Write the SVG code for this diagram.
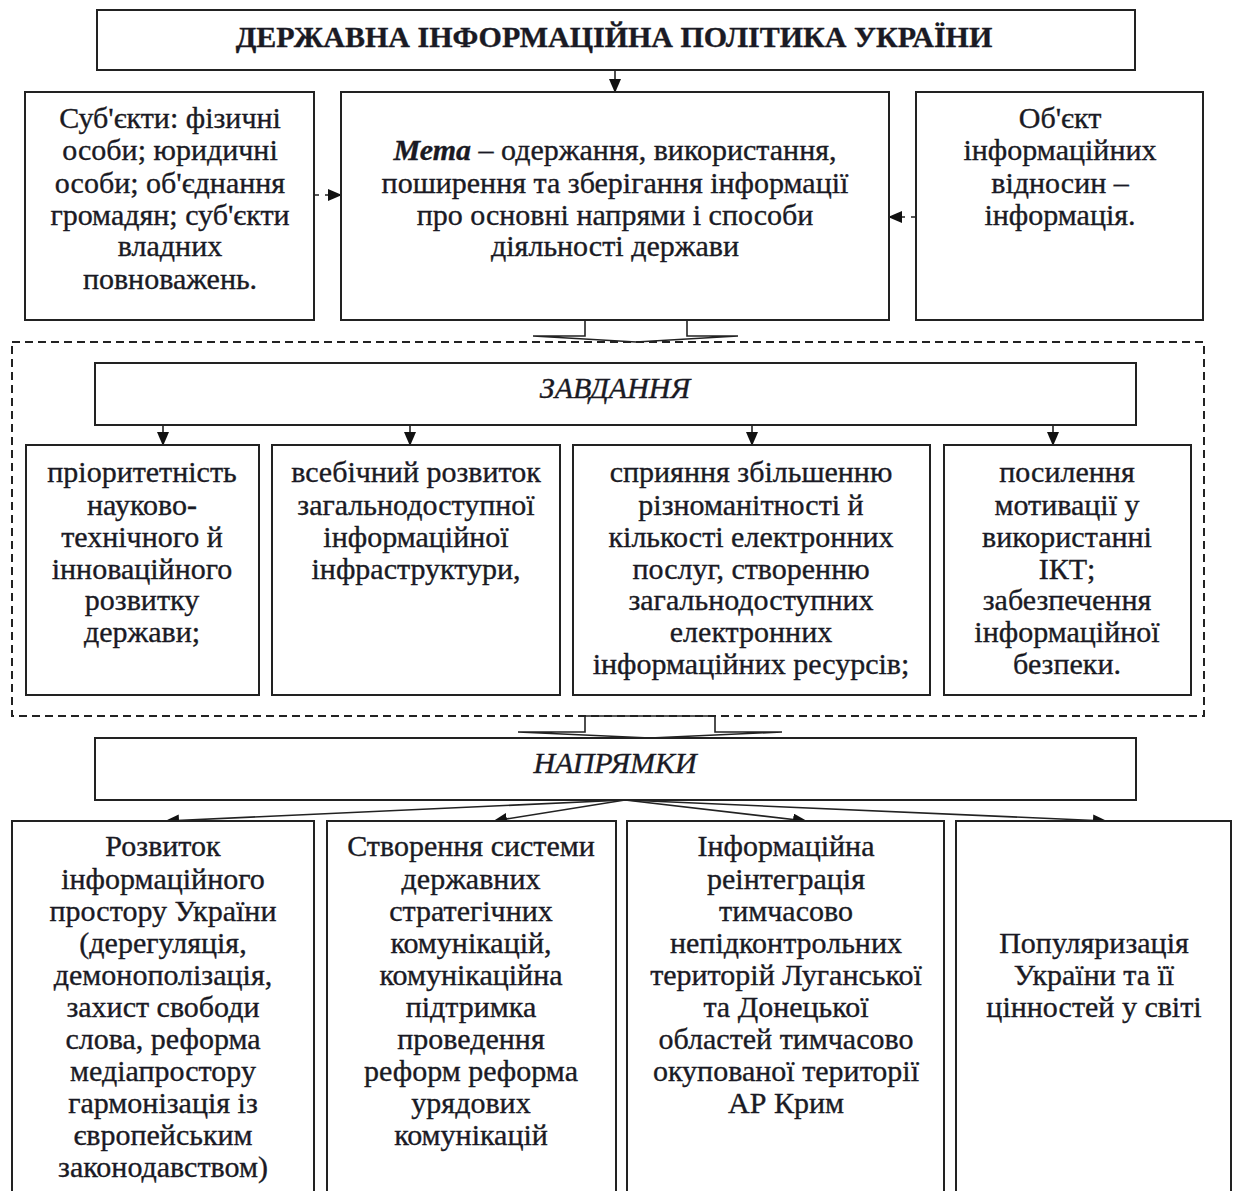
<svg xmlns="http://www.w3.org/2000/svg" width="1235" height="1191" viewBox="0 0 1235 1191">
<defs>
<marker id="ah" markerWidth="14" markerHeight="12" refX="13" refY="6" orient="auto" markerUnits="userSpaceOnUse">
<path d="M0,0 L14,6 L0,12 Z" fill="#111"/>
</marker>
<style>
.b{fill:#fff;stroke:#222;stroke-width:2}
.t{font-family:"Liberation Serif","Times New Roman",serif;font-size:30px;fill:#1a1a24;stroke:#1a1a24;stroke-width:0.35;text-anchor:middle}
.c{stroke:#222;stroke-width:1.6;fill:none}
</style>
</defs>
<rect width="1235" height="1191" fill="#fff"/>
<g id="connectors">
<line class="c" x1="615" y1="70" x2="615" y2="92" marker-end="url(#ah)"/>
<line class="c" x1="314" y1="195" x2="341" y2="195" stroke-dasharray="5 6" marker-end="url(#ah)"/>
<line class="c" x1="916" y1="217" x2="889" y2="217" stroke-dasharray="5 6" marker-end="url(#ah)"/>
<polygon class="c" fill="#fff" points="585,320 687,320 687,336 738,336 636,342 533,336 585,336"/>
<line class="c" x1="163" y1="425" x2="163" y2="445" marker-end="url(#ah)"/>
<line class="c" x1="410" y1="425" x2="410" y2="445" marker-end="url(#ah)"/>
<line class="c" x1="752" y1="425" x2="752" y2="445" marker-end="url(#ah)"/>
<line class="c" x1="1053" y1="425" x2="1053" y2="445" marker-end="url(#ah)"/>
<polygon class="c" fill="#fff" points="585,716 715,716 715,732 782,732 650,738 518,732 585,732"/>
<line class="c" x1="625" y1="800" x2="166" y2="821" marker-end="url(#ah)"/>
<line class="c" x1="625" y1="800" x2="494" y2="821" marker-end="url(#ah)"/>
<line class="c" x1="625" y1="800" x2="806" y2="821" marker-end="url(#ah)"/>
<line class="c" x1="625" y1="800" x2="1106" y2="821" marker-end="url(#ah)"/>
</g>
<g id="title">
<rect class="b" x="97" y="10" width="1038" height="60" stroke-width="3"/>
<text class="t" x="614" y="47" font-weight="bold" font-size="31.8" stroke-width="0.2">ДЕРЖАВНА ІНФОРМАЦІЙНА ПОЛІТИКА УКРАЇНИ</text>
</g>
<g id="subjects">
<rect class="b" x="25" y="92" width="289" height="228"/>
<text class="t"><tspan x="170" y="128">Суб'єкти: фізичні</tspan><tspan x="170" y="160">особи; юридичні</tspan><tspan x="170" y="193">особи; об'єднання</tspan><tspan x="170" y="225">громадян; суб'єкти</tspan><tspan x="170" y="256">владних</tspan><tspan x="170" y="289">повноважень.</tspan></text>
</g>
<g id="goal">
<rect class="b" x="341" y="92" width="548" height="228"/>
<text class="t"><tspan x="615" y="160"><tspan font-weight="bold" font-style="italic">Мета</tspan> – одержання, використання,</tspan><tspan x="615" y="193">поширення та зберігання інформації</tspan><tspan x="615" y="225">про основні напрями і способи</tspan><tspan x="615" y="256">діяльності держави</tspan></text>
</g>
<g id="object">
<rect class="b" x="916" y="92" width="287" height="228"/>
<text class="t"><tspan x="1060" y="128">Об'єкт</tspan><tspan x="1060" y="160">інформаційних</tspan><tspan x="1060" y="193">відносин –</tspan><tspan x="1060" y="225">інформація.</tspan></text>
</g>
<g id="tasks-group">
<rect x="12" y="342" width="1192" height="374" fill="none" stroke="#222" stroke-width="2" stroke-dasharray="8 5"/>
</g>
<g id="tasks">
<rect class="b" x="95" y="363" width="1041" height="62"/>
<text class="t" x="615" y="398" font-style="italic">ЗАВДАННЯ</text>
</g>
<g id="task1">
<rect class="b" x="26" y="445" width="233" height="250"/>
<text class="t"><tspan x="142" y="482">пріоритетність</tspan><tspan x="142" y="515">науково-</tspan><tspan x="142" y="547">технічного й</tspan><tspan x="142" y="579">інноваційного</tspan><tspan x="142" y="610">розвитку</tspan><tspan x="142" y="642">держави;</tspan></text>
</g>
<g id="task2">
<rect class="b" x="272" y="445" width="288" height="250"/>
<text class="t"><tspan x="416" y="482">всебічний розвиток</tspan><tspan x="416" y="515">загальнодоступної</tspan><tspan x="416" y="547">інформаційної</tspan><tspan x="416" y="579">інфраструктури,</tspan></text>
</g>
<g id="task3">
<rect class="b" x="573" y="445" width="357" height="250"/>
<text class="t"><tspan x="751" y="482">сприяння збільшенню</tspan><tspan x="751" y="515">різноманітності й</tspan><tspan x="751" y="547">кількості електронних</tspan><tspan x="751" y="579">послуг, створенню</tspan><tspan x="751" y="610">загальнодоступних</tspan><tspan x="751" y="642">електронних</tspan><tspan x="751" y="674">інформаційних ресурсів;</tspan></text>
</g>
<g id="task4">
<rect class="b" x="944" y="445" width="247" height="250"/>
<text class="t"><tspan x="1067" y="482">посилення</tspan><tspan x="1067" y="515">мотивації у</tspan><tspan x="1067" y="547">використанні</tspan><tspan x="1067" y="579">ІКТ;</tspan><tspan x="1067" y="610">забезпечення</tspan><tspan x="1067" y="642">інформаційної</tspan><tspan x="1067" y="674">безпеки.</tspan></text>
</g>
<g id="directions">
<rect class="b" x="95" y="738" width="1041" height="62"/>
<text class="t" x="615" y="773" font-style="italic">НАПРЯМКИ</text>
</g>
<g id="dir1">
<rect class="b" x="12" y="821" width="302" height="420"/>
<text class="t"><tspan x="163" y="856">Розвиток</tspan><tspan x="163" y="889">інформаційного</tspan><tspan x="163" y="921">простору України</tspan><tspan x="163" y="953">(дерегуляція,</tspan><tspan x="163" y="985">демонополізація,</tspan><tspan x="163" y="1017">захист свободи</tspan><tspan x="163" y="1049">слова, реформа</tspan><tspan x="163" y="1081">медіапростору</tspan><tspan x="163" y="1113">гармонізація із</tspan><tspan x="163" y="1145">європейським</tspan><tspan x="163" y="1177">законодавством)</tspan></text>
</g>
<g id="dir2">
<rect class="b" x="327" y="821" width="289" height="420"/>
<text class="t"><tspan x="471" y="856">Створення системи</tspan><tspan x="471" y="889">державних</tspan><tspan x="471" y="921">стратегічних</tspan><tspan x="471" y="953">комунікацій,</tspan><tspan x="471" y="985">комунікаційна</tspan><tspan x="471" y="1017">підтримка</tspan><tspan x="471" y="1049">проведення</tspan><tspan x="471" y="1081">реформ реформа</tspan><tspan x="471" y="1113">урядових</tspan><tspan x="471" y="1145">комунікацій</tspan></text>
</g>
<g id="dir3">
<rect class="b" x="627" y="821" width="317" height="420"/>
<text class="t"><tspan x="786" y="856">Інформаційна</tspan><tspan x="786" y="889">реінтеграція</tspan><tspan x="786" y="921">тимчасово</tspan><tspan x="786" y="953">непідконтрольних</tspan><tspan x="786" y="985">територій Луганської</tspan><tspan x="786" y="1017">та Донецької</tspan><tspan x="786" y="1049">областей тимчасово</tspan><tspan x="786" y="1081">окупованої території</tspan><tspan x="786" y="1113">АР Крим</tspan></text>
</g>
<g id="dir4">
<rect class="b" x="956" y="821" width="275" height="420"/>
<text class="t"><tspan x="1094" y="953">Популяризація</tspan><tspan x="1094" y="985">України та її</tspan><tspan x="1094" y="1017">цінностей у світі</tspan></text>
</g>
</svg>
